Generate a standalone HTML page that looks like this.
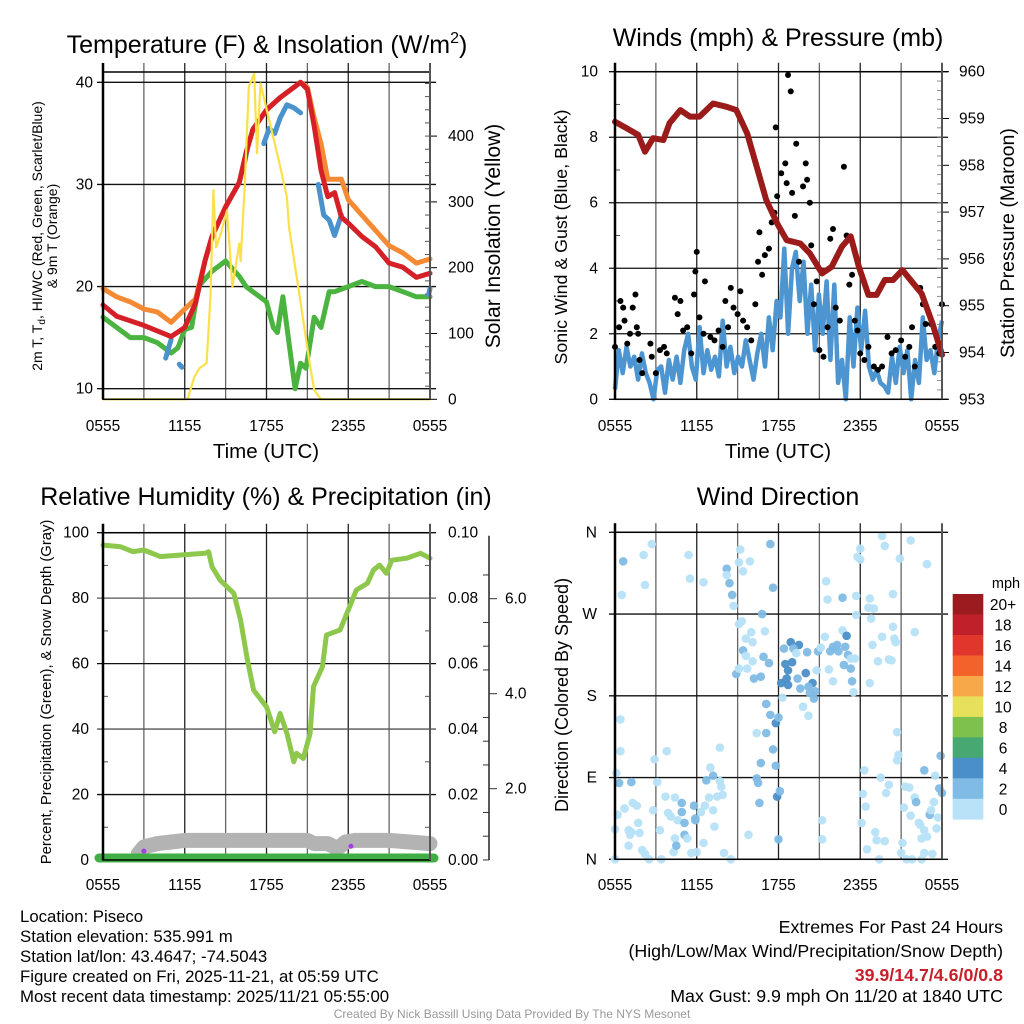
<!DOCTYPE html>
<html><head><meta charset="utf-8"><style>
html,body{margin:0;padding:0;background:#fff;}
svg{display:block;font-family:"Liberation Sans",Arial,sans-serif;}
</style></head><body>
<svg id="chart" width="1024" height="1024" viewBox="0 0 1024 1024" xmlns="http://www.w3.org/2000/svg">
<rect width="1024" height="1024" fill="#fff"/>
<text x="267" y="53" font-size="25" text-anchor="middle">Temperature (F) &amp; Insolation (W/m<tspan font-size="16" dy="-10">2</tspan><tspan dy="10">)</tspan></text>
<text x="778" y="46" font-size="25" text-anchor="middle">Winds (mph) &amp; Pressure (mb)</text>
<text x="266" y="505" font-size="25" text-anchor="middle">Relative Humidity (%) &amp; Precipitation (in)</text>
<text x="778" y="505" font-size="25" text-anchor="middle">Wind Direction</text>
<g id="layer"></g>
<g font-size="16.8">
<text x="20" y="922">Location: Piseco</text>
<text x="20" y="942">Station elevation: 535.991 m</text>
<text x="20" y="962">Station lat/lon: 43.4647; -74.5043</text>
<text x="20" y="982">Figure created on Fri, 2025-11-21, at 05:59 UTC</text>
<text x="20" y="1002">Most recent data timestamp: 2025/11/21 05:55:00</text>
</g>
<g font-size="17.8" text-anchor="end">
<text x="1003" y="933">Extremes For Past 24 Hours</text>
<text x="1003" y="957">(High/Low/Max Wind/Precipitation/Snow Depth)</text>
<text x="1003" y="981" fill="#c8202a" font-weight="bold">39.9/14.7/4.6/0/0.8</text>
<text x="1003" y="1002">Max Gust: 9.9 mph On 11/20 at 1840 UTC</text>
</g>
<text x="512" y="1018" font-size="12" fill="#999" text-anchor="middle">Created By Nick Bassill Using Data Provided By The NYS Mesonet</text>
</svg>
<script>
// ---- data ----
const tickLabels = ["0555","1155","1755","2355","0555"];
const redT = [0,1,3,5,6,6.8,7.5,8,9,10,10.5,11,12,13,14,14.5,15,15.5,16,16.5,17,17.5,18,19,20,21,22,23,24];
const redV = [18.2,17.1,16.2,15.1,16,18.4,22.6,24.9,27.8,30.2,33.1,35.4,37.3,38.5,39.5,40,39.3,35.7,31.4,28.8,29.2,26.8,26.2,24.9,23.9,22.3,21.9,20.9,21.3];
const orangeT = [0,1,2,3,4,5,6,6.8,7.5,8,9,10,10.5,11,12,13,14,14.5,15,15.5,16,16.5,17,17.5,18,19,20,21,22,23,24];
const orangeV = [19.8,19,18.5,17.8,17.5,16.5,17.8,18.8,22.6,24.9,27.8,30.2,33.1,35.4,37.3,38.5,39.5,40,39.5,36.5,34,30.5,30.5,30.5,28.5,27,25.5,24,23.3,22.3,22.7];
const blueT = [4.6,5.0,null,5.6,5.8,null,10.4,10.6,null,11.8,12.2,12.6,13.0,13.5,14.0,14.5,null,15.8,16.2,16.6,17.0,17.5,null,23.9,24];
const blueV = [13,14.8,null,12.4,12.1,null,32.2,33.5,null,34,35.5,35,36.5,37.8,37.5,37,null,30,27,26.5,25,27,null,19.2,19.8];
const greenT = [0,1,2,3,4,5,5.5,6,6.5,7,8,9,10,10.5,11,12,12.5,12.8,13.2,14.1,14.5,14.9,15.5,16,16.6,17,18,19,20,21,22,23,24];
const greenV = [17,16,15,15,14.5,13.5,14,15.8,16,20,21.5,22.5,21,20,19.5,18.5,16,15.5,19,10,12.5,12,17,16,19.5,19.5,20,20.5,20,20,19.5,19,19];
const solarT = [0,6.2,6.7,7.07,7.6,7.9,8.1,8.3,8.65,9.1,9.5,10,10.1,10.4,10.7,11.1,11.3,11.56,12.2,12.9,13.5,13.65,14.4,15.1,15.5,16,24];
const solarV = [0,0,34,47,55,161,318,231,252,287,171,237,210,323,475,495,374,480,424,363,307,262,161,64,14,0,0];
const tempTicks = [10,20,30,40];
const solarTicks = [0,100,200,300,400];

const presT = [0,0.86,1.7,2.2,2.8,3.55,4.0,4.8,5.5,6.2,7.2,8.2,8.9,9.7,10.4,11.1,11.9,12.6,13.6,14.3,15.2,15.9,16.65,17.3,17.9,18.6,19.2,19.8,20.4,21.1,21.8,22.5,23.3,24];
const presV = [958.93,958.79,958.65,958.29,958.58,958.54,958.9,959.18,959.04,959.04,959.32,959.25,959.18,958.68,957.97,957.26,956.76,956.4,956.33,956.12,955.69,955.83,956.26,956.48,955.83,955.23,955.23,955.55,955.55,955.76,955.51,955.26,954.62,953.95];
const windV = [0.3,1.5,0.8,1.6,1.0,1.3,0.6,1.4,0.8,0.5,0.0,0.9,1.0,0.2,1.2,0.6,1.3,0.5,1.5,2.0,1.0,0.6,2.2,0.8,1.5,0.9,1.3,0.7,2.4,1.0,1.6,0.8,1.3,1.0,1.8,1.2,0.6,1.4,2.0,1.0,2.5,1.5,3.0,2.5,4.6,2.0,4.0,4.5,3.0,4.2,2.0,3.5,1.5,3.2,2.0,3.6,1.2,3.5,0.5,1.2,0.0,2.5,1.0,2.8,1.5,2.7,1.0,0.6,0.9,0.5,0.4,0.2,1.3,0.5,1.6,0.8,1.5,0.0,1.2,0.5,2.5,1.2,1.5,0.8,1.8,2.4];
const gustT = [0,0.3,0.4,0.6,0.7,0.9,1.1,1.3,1.5,1.6,1.7,1.8,2.0,2.6,2.7,3.0,3.3,3.6,3.8,4.4,4.6,4.8,5.0,5.3,5.6,5.8,5.9,6.0,6.2,6.5,6.6,7.0,7.3,7.6,7.9,8.1,8.3,8.5,8.7,9.0,9.2,9.4,9.7,10.0,10.3,10.5,10.6,10.8,11.0,11.3,11.5,11.7,11.8,11.9,12.2,12.5,12.6,12.7,12.9,13.0,13.2,13.3,13.5,13.8,14.0,14.1,14.3,14.4,14.6,14.8,15.0,15.3,15.6,15.8,16.0,16.2,16.5,16.8,17.0,17.2,17.4,17.6,17.8,18.0,18.3,18.6,19.0,19.3,19.6,20.0,20.3,20.6,21.0,21.3,21.6,21.8,22.0,22.4,22.6,22.8,23.2,23.5,23.8,24.0];
const gustV = [1.6,2.2,3.0,2.8,2.4,1.7,2.0,2.8,3.2,2.2,2.0,1.2,0.8,1.7,1.3,0.8,1.5,1.6,1.4,3.1,2.6,3.0,2.1,2.2,1.4,3.2,3.9,4.5,2.5,2.0,3.6,1.9,1.8,2.1,1.6,3.0,2.2,3.4,2.8,2.6,3.3,2.4,2.2,1.8,2.9,4.2,5.1,3.8,4.4,4.6,5.4,5.7,8.3,6.2,6.9,7.2,6.6,9.9,9.4,6.3,5.6,7.8,4.2,6.5,7.2,6.7,6.0,4.7,2.9,3.6,1.5,1.3,2.2,4.9,5.2,2.8,2.4,7.1,5.0,3.5,3.8,2.4,2.1,1.4,1.2,1.6,1.0,0.9,1.0,1.9,1.4,1.5,1.8,1.3,1.6,2.2,1.0,3.4,2.9,2.3,2.3,1.6,1.4,2.9];
const windTicks = [0,2,4,6,8,10];
const presTicks = [953,954,955,956,957,958,959,960];

const rhT = [0,1.3,2.2,3,4.2,5.7,7.5,7.75,8,8.6,9.6,10.1,10.6,11.05,12,12.6,13,13.5,14,14.2,14.7,15.2,15.45,16.1,16.4,17.4,18.1,18.6,19.4,19.85,20.3,20.8,21.2,22.3,23.3,24];
const rhV = [96.2,95.7,94.2,94.7,92.7,93.2,93.7,94.2,89.6,85.5,81.5,73.3,61.1,51.9,46.8,39.2,44.8,38.7,30,32.6,31,38.7,53,59,68.7,70.3,77.4,82.5,84.5,88.6,90.1,87.6,91.6,92.2,93.7,92.2];
const snowT = [2.6,3.0,4.0,5.0,6.0,9.0,12.0,15.0,15.5,16.5,17.2,17.8,18.5,21,24];
const snowV = [2,4,5,5.5,6,6,6,6,5,5,3.5,5.5,6,6,5];
const rhTicks = [0,20,40,60,80,100];
const precipTicks = ["0.00","0.02","0.04","0.06","0.08","0.10"];
const snowTicks = ["2.0","4.0","6.0"];
const snowTickVals = [2,4,6];

const dirLabels = ["N","E","S","W","N"];
const dirT = [0.6,0.5,2.1,2.2,2.7,5.4,5.5,6.5,8.2,8.2,8.4,8.6,8.7,9.2,9.1,9.4,9.9,11.4,11.6,9.1,9.3,9.6,10.0,10.1,10.8,11.0,9.4,9.6,10.1,10.9,11.3,8.9,9.1,9.7,10.2,10.7,12.4,12.9,13.5,13.1,14.1,13.3,12.5,13.0,12.7,12.6,12.2,12.7,13.4,14.0,13.6,14.5,14.2,14.3,14.7,14.6,14.8,13.8,14.2,12.3,14.9,15.1,15.4,15.7,15.8,16.0,16.3,16.4,16.7,17.0,16.9,17.1,17.3,16.8,17.3,17.6,17.4,17.5,16.0,15.5,15.6,16.7,17.7,18.0,17.8,18.0,18.7,18.6,19.0,18.8,20.4,20.4,17.7,19.6,19.8,21.7,20.9,22.9,22.0,18.9,19.6,19.3,20.1,20.3,20.5,20.6,18.7,
0.4,0.4,0.1,0.3,1.2,0.2,0,0.7,1.0,1.1,1.3,1.6,1.2,1.8,1.7,1.0,2.0,2.2,2.5,2.8,2.9,3.1,3.3,3.4,3.7,3.8,3.9,4.1,4.4,4.4,4.3,4.5,4.6,4.9,4.9,5.1,5.1,5.3,5.6,5.8,5.9,5.9,6.0,6.3,6.5,6.6,6.9,6.7,7.0,7.2,7.2,7.3,7.5,7.7,7.7,7.9,7.8,8.0,8.5,9.8,10.4,10.5,10.6,10.7,10.4,11.1,11.1,11.4,11.8,12.0,11.6,11.8,11.9,12.1,12.0,15.2,15.2,
18.3,18.2,18.4,18.1,19.1,19.2,18.5,19.8,19.5,19.9,20.1,19.4,20.7,20.8,20.7,21.3,21.6,21.2,22.0,22.1,21.7,22.3,22.4,22.7,22.5,22.9,23.1,23.2,23.4,23.5,23.9,23.8,24.0,23.6,23.7,22.7,21.1,21.0,21.4,21.8,22.7,23.3,22.5,0];
const dirDeg = [328,291,335,302,347,335,309,305,320,313,304,291,279,341,327,317,328,347,299,259,262,243,250,239,270,251,230,224,218,223,216,204,210,210,199,201,232,239,236,232,228,227,215,217,208,199,194,192,199,205,188,194,190,183,185,177,208,168,158,178,229,233,245,209,229,234,236,229,252,246,234,225,221,214,210,221,196,184,196,306,286,288,290,342,333,330,287,277,276,265,292,256,269,356,345,351,331,325,250,236,245,218,220,219,243,239,194,
154,119,95,84,85,49,33,56,32,27,62,59,30,29,40,15,10,6,0,54,110,85,32,0,69,119,51,47,68,23,8,15,43,62,52,40,27,23,7,59,45,43,8,52,18,59,68,87,101,92,54,36,69,123,86,71,80,7,0,27,89,84,62,106,139,139,171,159,150,156,121,103,69,75,22,43,22,
98,72,58,40,30,21,11,20,90,73,82,0,140,115,109,80,79,57,68,63,48,40,38,32,23,25,49,54,63,92,114,78,73,34,46,98,18,7,0,0,7,6,0,0];
const dirSpd = [3,1,1,1,1,1,1,1,3,1,3,3,1,1,1,1,1,3,3,1,1,1,1,1,3,1,3,1,1,3,3,3,1,1,3,3,3,4.5,4.5,3,3,1,4.5,4.5,4.5,4.5,4.5,4.5,3,4.5,3,4.5,3,3,3,3,1,1,1,1,3,1,1,1,3,3,3,3,1,4.5,3,3,1,3,3,1,3,1,1,1,1,3,1,1,1,1,1,1,1,1,1,1,1,1,1,1,1,1,1,1,1,1,1,1,1,1,1,
1,1,1,3,3,1,1,1,1,1,1,1,1,1,1,1,1,1,1,1,1,1,1,1,1,1,1,1,1,1,1,3,1,3,3,3,3,1,1,3,3,3,1,1,1,1,1,3,1,3,1,1,1,1,1,1,1,1,1,1,3,3,3,3,1,3,3,3,4.5,3,3,3,4.5,3,3,1,1,
1,1,1,1,1,1,1,1,1,1,1,1,1,1,1,1,1,1,1,3,1,1,1,1,1,1,3,1,1,1,3,3,3,1,1,3,1,1,1,1,1,1,1,1];
const cbLabels = ["20+","18","16","14","12","10","8","6","4","2","0"];
const cbColors = ["#9b1b1f","#c0202a","#e0362b","#f2622a","#f7a848","#e6e05a","#7ec24d","#48a872","#4a8fc7","#7fbbe5","#b7e2f7"];

// ---- drawing ----
const NS="http://www.w3.org/2000/svg";
const layer=document.getElementById('layer');
const TF=15.5;
function mk(tag,attrs,parent){const e=document.createElementNS(NS,tag);for(const k in attrs)e.setAttribute(k,attrs[k]);(parent||layer).appendChild(e);return e;}
function txt(s,attrs,parent){const e=mk('text',attrs,parent);e.textContent=s;return e;}
function xs(x0,x1){return t=>x0+t*(x1-x0)/24;}
function lin(v0,y0,v1,y1){return v=>y0+(v-v0)*(y1-y0)/(v1-v0);}
function pathFrom(T,V,fx,fy){let d="",pen=false;for(let i=0;i<T.length;i++){if(T[i]===null||V[i]===null){pen=false;continue;}d+=(pen?"L":"M")+fx(T[i]).toFixed(1)+","+fy(V[i]).toFixed(1);pen=true;}return d;}

function frame(x0,x1,yt,yb,name){
  const g=mk('g',{});
  
  
  const fx=xs(x0,x1);
  for(let h=3;h<24;h+=3){mk('line',{x1:fx(h),x2:fx(h),y1:yt-9,y2:yb,stroke:(h%6==0)?'#222':'#666','stroke-width':1.3},g);}
  return g;
}
function box(x0,x1,yt,yb,name){
  const r=mk('rect',{x:x0,y:yt,width:x1-x0,height:yb-yt,fill:'none',stroke:'#000','stroke-width':1.5});
  
  
  mk('line',{x1:x0,x2:x0,y1:yt-9,y2:yb,stroke:'#000','stroke-width':2.5});
  mk('line',{x1:x1,x2:x1,y1:yt-9,y2:yb,stroke:'#555','stroke-width':2});
}
function xLabels(x0,x1,y,name){
  const fx=xs(x0,x1);
  tickLabels.forEach((s,i)=>{const e=txt(s,{x:fx(i*6),y:y,'font-size':TF,'text-anchor':'middle'});
    
    });
}
function hgrid(x0,x1,y,col){mk('line',{x1:x0-6,x2:x1+6,y1:y,y2:y,stroke:col||'#111','stroke-width':1.3});}

// ===== Panel 1 =====
(function(){
  const x0=103,x1=430,yt=72,yb=399.3;
  const fx=xs(x0,x1), fy=lin(10,388.7,40,82.3), fs=lin(0,399.3,100,333.5);
  frame(x0,x1,yt,yb,'temp');
  tempTicks.forEach(v=>{hgrid(x0,x1,fy(v));
    const e=txt(String(v),{x:x0-10,y:fy(v)+5,'font-size':TF,'text-anchor':'end'});
    
    });
  for(let s=20;s<490;s+=20){mk('line',{x1:x1,x2:x1-5,y1:fs(s),y2:fs(s),stroke:'#555','stroke-width':1});}
  solarTicks.forEach(v=>{mk('line',{x1:x1,x2:x1+7,y1:fs(v),y2:fs(v),stroke:'#000','stroke-width':1});
    const e=txt(String(v),{x:x1+18,y:fs(v)+5,'font-size':TF});
    
    });
  let e;
  e=mk('path',{d:pathFrom(greenT,greenV,fx,fy),fill:'none',stroke:'#4bb33f','stroke-width':5,'stroke-linejoin':'round','stroke-linecap':'round'});
  
  
  e=mk('path',{d:pathFrom(orangeT,orangeV,fx,fy),fill:'none',stroke:'#f58a35','stroke-width':5,'stroke-linejoin':'round','stroke-linecap':'round'});
  
  
  e=mk('path',{d:pathFrom(blueT,blueV,fx,fy),fill:'none',stroke:'#4a92cc','stroke-width':5,'stroke-linejoin':'round','stroke-linecap':'round'});
  
  
  e=mk('path',{d:pathFrom(redT,redV,fx,fy),fill:'none',stroke:'#d52028','stroke-width':5,'stroke-linejoin':'round','stroke-linecap':'round'});
  
  
  e=mk('path',{d:pathFrom(solarT,solarV,fx,fs),fill:'none',stroke:'#fbe04a','stroke-width':2.2,'stroke-linejoin':'round'});
  
  
  box(x0,x1,yt,yb,'temp');
  xLabels(x0,x1,431,'temp');
  e=txt('Time (UTC)',{x:266,y:458,'font-size':20.5,'text-anchor':'middle'});
  
  
  e=txt('2m T, T',{x:0,y:0,'font-size':14,'text-anchor':'middle',transform:'translate(42,236) rotate(-90)'});
  const ts=mk('tspan',{'font-size':10,dy:3},e);ts.textContent='d';
  const ts2=mk('tspan',{dy:-3},e);ts2.textContent=', HI/WC (Red, Green, Scarlet/Blue)';
  
  
  e=txt('& 9m T (Orange)',{x:0,y:0,'font-size':14,'text-anchor':'middle',transform:'translate(57,236) rotate(-90)'});
  
  
  e=txt('Solar Insolation (Yellow)',{x:0,y:0,'font-size':21,'text-anchor':'middle',transform:'translate(500,236) rotate(-90)'});
  
  
})();

// ===== Panel 2 =====
(function(){
  const x0=615,x1=942,yt=71.7,yb=399.3;
  const fx=xs(x0,x1), fy=lin(0,399.3,10,71.7), fp=lin(953,399.3,960,71.7);
  frame(x0,x1,yt,yb,'wind');
  windTicks.forEach(v=>{hgrid(x0,x1,fy(v));
    const e=txt(String(v),{x:x0-17,y:fy(v)+5,'font-size':TF,'text-anchor':'end'});
    
    });
  for(let v=1;v<10;v+=2)mk('line',{x1:x0,x2:x0+5,y1:fy(v),y2:fy(v),stroke:'#555'});
  for(let p=953.2;p<960;p+=0.2)mk('line',{x1:x1,x2:x1-5,y1:fp(p),y2:fp(p),stroke:'#777','stroke-width':0.8});
  presTicks.forEach(v=>{mk('line',{x1:x1,x2:x1+7,y1:fp(v),y2:fp(v),stroke:'#000'});
    const e=txt(String(v),{x:x1+17,y:fp(v)+5,'font-size':TF});
    
    });
  let e;
  const tw=windV.map((v,i)=>i*24/(windV.length-1));
  e=mk('path',{d:pathFrom(tw,windV,fx,fy),fill:'none',stroke:'#4d95d0','stroke-width':4.5,'stroke-linejoin':'round'});
  
  
  const g=mk('g',{});
  
  
  gustT.forEach((t,i)=>{const c=mk('circle',{cx:fx(t),cy:fy(gustV[i]),r:3,fill:'#000'},g);
    
    });
  e=mk('path',{d:pathFrom(presT,presV,fx,fp),fill:'none',stroke:'#9b1b1b','stroke-width':6,'stroke-linejoin':'round','stroke-linecap':'round'});
  
  
  box(x0,x1,yt,yb,'wind');
  xLabels(x0,x1,431,'wind');
  e=txt('Time (UTC)',{x:778,y:458,'font-size':20.5,'text-anchor':'middle'});
  
  
  e=txt('Sonic Wind & Gust (Blue, Black)',{x:0,y:0,'font-size':17.8,'text-anchor':'middle',transform:'translate(567,237) rotate(-90)'});
  
  
  e=txt('Station Pressure (Maroon)',{x:0,y:0,'font-size':19.6,'text-anchor':'middle',transform:'translate(1014,243) rotate(-90)'});
  
  
})();

// ===== Panel 3 =====
(function(){
  const x0=103,x1=430,yt=532.7,yb=860;
  const fx=xs(x0,x1), fy=lin(0,860,100,532.7), fsn=lin(2,788.7,4,693.7);
  frame(x0,x1,yt,yb,'rh');
  rhTicks.forEach((v,i)=>{hgrid(x0,x1,fy(v),(i==2||i==4)?'#555':'#111');
    let e=txt(String(v),{x:x0-14,y:fy(v)+5,'font-size':TF,'text-anchor':'end'});
    
    
    e=txt(precipTicks[i],{x:448,y:fy(v)+5,'font-size':TF});
    
    });
  for(let v=10;v<100;v+=20){mk('line',{x1:x0,x2:x0+5,y1:fy(v),y2:fy(v),stroke:'#555'});mk('line',{x1:x1,x2:x1-5,y1:fy(v),y2:fy(v),stroke:'#555'});}
  const ax=mk('line',{x1:489,x2:489,y1:yt+3,y2:yb,stroke:'#222','stroke-width':1.5});
  
  
  for(let s=0.5;s<7;s+=0.5){const y=fsn(s);if(y<yt||y>yb)continue;mk('line',{x1:489,x2:(s%2==0)?497:483,y1:y,y2:y,stroke:'#333'});}
  snowTicks.forEach((s,i)=>{const e=txt(s,{x:505,y:fsn(snowTickVals[i])+5,'font-size':TF});
    
    });
  let e;
  e=mk('path',{d:pathFrom(snowT,snowV,fx,fy),fill:'none',stroke:'#b3b3b3','stroke-width':15,'stroke-linejoin':'round','stroke-linecap':'round'});
  
  
  e=mk('line',{x1:x0-4,x2:x1+4,y1:fy(0)-2,y2:fy(0)-2,stroke:'#3fae45','stroke-width':9,'stroke-linecap':'round'});
  
  
  e=mk('circle',{cx:fx(3),cy:fy(2.7),r:2.5,fill:'#a23ee0'});
  
  
  e=mk('circle',{cx:fx(18.2),cy:fy(4.2),r:2.5,fill:'#a23ee0'});
  
  
  e=mk('path',{d:pathFrom(rhT,rhV,fx,fy),fill:'none',stroke:'#8dc84c','stroke-width':5,'stroke-linejoin':'round','stroke-linecap':'round'});
  
  
  box(x0,x1,yt,yb,'rh');
  xLabels(x0,x1,890,'rh');
  e=txt('Percent, Precipitation (Green), & Snow Depth (Gray)',{x:0,y:0,'font-size':14.8,'text-anchor':'middle',transform:'translate(51,692) rotate(-90)'});
  
  
})();

// ===== Panel 4 =====
(function(){
  const x0=615,x1=942,yt=532.3,yb=859.3;
  const fx=xs(x0,x1), fy=lin(0,859.3,360,532.3);
  frame(x0,x1,yt,yb,'direction');
  dirLabels.forEach((s,i)=>{const y=fy(i*90);hgrid(x0,x1,y);
    const e=txt(s,{x:x0-18,y:y+5,'font-size':TF,'text-anchor':'end'});
    
    });
  const col=s=>cbColors[10-Math.min(10,Math.floor(s/2))];
  const g=mk('g',{});
  
  
  dirT.forEach((t,i)=>{const c=mk('circle',{cx:fx(t),cy:fy(dirDeg[i]),r:4.3,fill:col(dirSpd[i]),'fill-opacity':0.95},g);
    
    });
  box(x0,x1,yt,yb,'direction');
  xLabels(x0,x1,890,'direction');
  let e=txt('Direction (Colored By Speed)',{x:0,y:0,'font-size':18,'text-anchor':'middle',transform:'translate(568,695) rotate(-90)'});
  
  
  const cb=mk('g',{});
  
  
  const h=(819.3-594)/11;
  cbColors.forEach((c,i)=>{const r=mk('rect',{x:952.7,y:594+i*h,width:30.6,height:h+0.3,fill:c},cb);
    
    
    const t=txt(cbLabels[i],{x:1003,y:594+i*h+h/2+6,'font-size':15.5,'text-anchor':'middle'},cb);
    
    });
  e=txt('mph',{x:1006,y:588,'font-size':14.5,'text-anchor':'middle'});
  
  
})();
</script>
</body></html>
